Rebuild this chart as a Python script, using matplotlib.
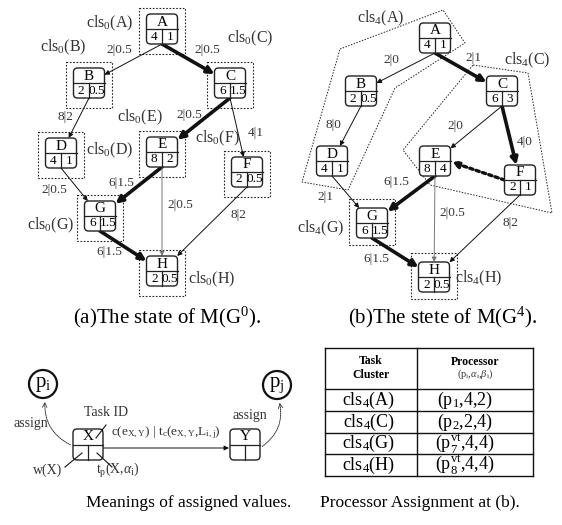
import numpy as np
import matplotlib
matplotlib.use("Agg")
import matplotlib.pyplot as plt
from matplotlib.patches import FancyBboxPatch, Rectangle, Polygon, Circle, FancyArrowPatch

plt.rcParams["font.family"] = ["Liberation Serif", "DejaVu Serif"]
plt.rcParams["mathtext.fontset"] = "custom"
plt.rcParams["mathtext.rm"] = "Liberation Serif"
plt.rcParams["mathtext.it"] = "Liberation Serif:italic"
plt.rcParams["mathtext.bf"] = "Liberation Serif:bold"

# task graph data
task_ids = ["A", "B", "C", "D", "E", "F", "G", "H"]
w_g0 = ["4", "2", "6", "4", "8", "2", "6", "2"]
tp_g0 = ["1", "0.5", "1.5", "1", "2", "0.5", "1.5", "0.5"]
w_g4 = ["4", "2", "6", "4", "8", "2", "6", "2"]
tp_g4 = ["1", "0.5", "3", "1", "4", "1", "1.5", "0.5"]

edges = [("A", "B"), ("A", "C"), ("B", "D"), ("C", "E"), ("C", "F"),
         ("D", "G"), ("E", "G"), ("E", "H"), ("F", "H"), ("G", "H")]
comm_g0 = ["2|0.5", "2|0.5", "8|2", "2|0.5", "4|1", "2|0.5", "6|1.5", "2|0.5", "8|2", "6|1.5"]
comm_g4 = ["2|0", "2|1", "8|0", "2|0", "4|0", "2|1", "6|1.5", "2|0.5", "8|2", "6|1.5"]
critical_g0 = [("A", "C"), ("C", "E"), ("E", "G"), ("G", "H")]
critical_g4 = [("A", "C"), ("C", "F"), ("E", "G"), ("G", "H")]
dotted_g4 = [("F", "E")]
clusters_g0 = task_ids
clusters_g4 = ["A", "C", "G", "H"]

# processor assignment table
table_clusters = ["A", "C", "G", "H"]
table_procs = [r"(p$_\mathrm{1}$,4,2)", r"(p$_\mathrm{2}$,2,4)",
               r"(p$_\mathrm{7}^\mathrm{vt}$,4,4)", r"(p$_\mathrm{8}^\mathrm{vt}$,4,4)"]

# layout (pixel coordinates)
pos_a = {"A": (162, 29), "B": (89, 83), "C": (230, 83), "D": (61, 153),
         "E": (162, 152), "F": (247, 172), "G": (100, 216), "H": (162, 271)}
pos_b = {"A": (435, 38), "B": (361, 91), "C": (502, 91), "D": (332, 161),
         "E": (435, 161), "F": (520, 180), "G": (372, 223), "H": (434, 277)}
elab_a = [(119, 50), (207, 50), (65, 117), (189, 115), (256, 133),
          (54, 190), (121, 183), (180, 205), (238, 215), (109, 252)]
elab_b = [(391, 60), (473, 58), (333, 125), (455, 126), (525, 142),
          (325, 197), (396, 182), (452, 213), (510, 223), (376, 259)]
clab_a = {"A": (110, 23), "B": (63, 47), "C": (250, 38), "D": (110, 150),
          "E": (140, 117), "F": (217, 138), "G": (51, 225), "H": (212, 279)}
clab_b = {"A": (381, 18), "C": (527, 60), "G": (321, 228), "H": (479, 278)}
poly_a = [(340, 49), (443, 10), (465, 43), (395, 88), (348, 190), (302, 182)]
poly_c = [(473, 65), (528, 73), (552, 213), (430, 185), (403, 150)]

NW, NH = 31, 30


def draw_node(ax, cx, cy, name, w, tp):
    r = 4
    ax.add_patch(FancyBboxPatch((cx - NW / 2 + r, cy - NH / 2 + r), NW - 2 * r, NH - 2 * r,
                                boxstyle=f"round,pad={r}", fc="white", ec="#222", lw=1.0, zorder=3))
    ax.plot([cx - NW / 2, cx + NW / 2], [cy, cy], color="#222", lw=0.9, zorder=4)
    ax.plot([cx, cx], [cy, cy + NH / 2], color="#222", lw=0.9, zorder=4)
    ax.text(cx, cy - 7, name, ha="center", va="center", fontsize=11, zorder=5)
    ax.text(cx - NW / 4, cy + 7.5, w, ha="center", va="center", fontsize=9.5, zorder=5)
    ax.text(cx + NW / 4, cy + 7.5, tp, ha="center", va="center", fontsize=9.5, zorder=5)


def clip(sx, sy, tx, ty, hw=NW / 2, hh=NH / 2):
    dx, dy = sx - tx, sy - ty
    t = min(hw / abs(dx) if dx else np.inf, hh / abs(dy) if dy else np.inf)
    return tx + dx * t, ty + dy * t


def arrow(ax, p0, p1, thick=False, color="#111", ls="-"):
    lw = 2.6 if thick else 0.7
    ax.annotate("", xy=p1, xytext=p0, zorder=2,
                arrowprops=dict(arrowstyle="-|>", lw=lw, color=color, ls=ls,
                                shrinkA=0, shrinkB=0,
                                mutation_scale=10 if thick else 7))


def draw_graph(ax, pos, w, tp, labels, lab_pos, critical, dotted=()):
    for (s, t), lab, lp in zip(edges, labels, lab_pos):
        sx, sy = pos[s]
        tx, ty = pos[t]
        start = (sx, sy + NH / 2)
        end = clip(start[0], start[1], tx, ty)
        color = "#777" if (s, t) == ("E", "H") else "#111"
        arrow(ax, start, end, thick=(s, t) in critical, color=color)
        ax.text(lp[0], lp[1], lab, ha="center", va="center", fontsize=9.5, color="#333")
    for s, t in dotted:
        sx, sy = pos[s]
        tx, ty = pos[t]
        ax.annotate("", xy=(tx + NW / 2 + 1, ty + 1), xytext=(sx - NW / 2, sy),
                    arrowprops=dict(arrowstyle="-|>", lw=2.4, ls=(0, (1, 1)), color="#111",
                                    shrinkA=0, shrinkB=0, mutation_scale=10), zorder=2)
    for i, n in enumerate(task_ids):
        draw_node(ax, pos[n][0], pos[n][1], n, w[i], tp[i])


def dotted_box(ax, cx, cy, half=23):
    ax.add_patch(Rectangle((cx - half, cy - half), 2 * half, 2 * half, fill=False,
                           ec="#222", lw=0.8, ls=(0, (1.5, 1.5)), zorder=1))


fig = plt.figure(figsize=(5.62, 5.25), dpi=100)
ax = fig.add_axes([0, 0, 1, 1])
ax.set_xlim(0, 562)
ax.set_ylim(525, 0)
ax.axis("off")

# (a) initial state
for n in clusters_g0:
    dotted_box(ax, pos_a[n][0], pos_a[n][1] + 2)
draw_graph(ax, pos_a, w_g0, tp_g0, comm_g0, elab_a, critical_g0)
for n in clusters_g0:
    ax.text(*clab_a[n], rf"cls$_\mathrm{{0}}$({n})", ha="center", va="center",
            fontsize=11.5, color="#333")
ax.text(167, 317, r"(a)The state of M(G$^\mathrm{0}$).", ha="center", va="center", fontsize=15)

# (b) state after merging
for poly in (poly_a, poly_c):
    ax.add_patch(Polygon(poly, closed=True, fill=False, ec="#222", lw=0.7, ls=(0, (1.5, 1.5)), zorder=1))
for n in ["G", "H"]:
    dotted_box(ax, pos_b[n][0], pos_b[n][1] - 1)
draw_graph(ax, pos_b, w_g4, tp_g4, comm_g4, elab_b, critical_g4, dotted_g4)
for n in clusters_g4:
    ax.text(*clab_b[n], rf"cls$_\mathrm{{4}}$({n})", ha="center", va="center",
            fontsize=11.5, color="#333")
ax.text(443, 317, r"(b)The stete of M(G$^\mathrm{4}$).", ha="center", va="center", fontsize=15)

# legend: meaning of values
for cx, name in [(88, "X"), (245, "Y")]:
    ax.add_patch(FancyBboxPatch((cx - 15 + 4, 429 + 4), 30 - 8, 31 - 8, boxstyle="round,pad=4",
                                fc="white", ec="#222", lw=1.0, zorder=3))
    ax.plot([cx - 15, cx + 15], [445, 445], color="#222", lw=0.9, zorder=4)
    ax.plot([cx, cx], [445, 460], color="#222", lw=0.9, zorder=4)
    ax.text(cx, 437, name, ha="center", va="center", fontsize=11, zorder=5)
arrow(ax, (103, 448), (229, 448))
for cx, cy, sub in [(43, 384, "i"), (277, 385, "j")]:
    ax.add_patch(Circle((cx, cy), 14, fill=False, ec="#111", lw=1.6))
    ax.text(cx, cy, rf"p$_\mathrm{{{sub}}}$", ha="center", va="center", fontsize=15)
ax.add_patch(FancyArrowPatch((73, 446), (45, 399), connectionstyle="arc3,rad=-0.35",
                             arrowstyle="->", mutation_scale=8, lw=0.7, ls=(0, (1, 1)), color="#333"))
ax.add_patch(FancyArrowPatch((260, 448), (279, 400), connectionstyle="arc3,rad=0.35",
                             arrowstyle="->", mutation_scale=8, lw=0.7, ls=(0, (1, 1)), color="#333"))
ax.text(31, 423, "assign", ha="center", va="center", fontsize=10, color="#333")
ax.text(250, 416, "assign", ha="center", va="center", fontsize=10, color="#333")
ax.text(106, 413, "Task ID", ha="center", va="center", fontsize=10, color="#333")
ax.plot([106, 96], [425, 438], color="#111", lw=0.8, zorder=6)
ax.text(166, 433, r"c(e$_\mathrm{X,Y}$) | t$_\mathrm{c}$(e$_\mathrm{X,Y}$,L$_\mathrm{i,j}$)",
        ha="center", va="center", fontsize=9.5, color="#333")
ax.text(48, 470, "w(X)", ha="center", va="center", fontsize=10, color="#333")
ax.plot([65, 82], [467, 453], color="#111", lw=0.8, zorder=6)
ax.text(118, 471, r"t$_\mathrm{p}$(X,$\alpha_\mathrm{i}$)", ha="center", va="center",
        fontsize=10, color="#333")
ax.plot([112, 97], [467, 453], color="#111", lw=0.8, zorder=6)
ax.text(189, 503, "Meanings of assigned values.", ha="center", va="center", fontsize=12.5)

# processor assignment table
x0, xm, x1 = 325, 417, 533
rows = [348, 389, 411, 433, 454, 476]
for y in rows:
    ax.plot([x0, x1], [y, y], color="#111", lw=1.0)
for x in (x0, xm, x1):
    ax.plot([x, x], [rows[0], rows[-1]], color="#111", lw=1.0)
ax.text(371, 368, "Task\nCluster", ha="center", va="center", fontsize=8.5, fontweight="bold",
        linespacing=1.2)
ax.text(475, 362, "Processor", ha="center", va="center", fontsize=8.5, fontweight="bold")
ax.text(475, 374, r"(p$_\mathrm{i}$,$\alpha_\mathrm{i}$,$\beta_\mathrm{i}$)", ha="center",
        va="center", fontsize=7.5, color="#333")
for i, (c, p) in enumerate(zip(table_clusters, table_procs)):
    yc = (rows[i + 1] + rows[i + 2]) / 2
    ax.text(369, yc, rf"cls$_\mathrm{{4}}$({c})", ha="center", va="center", fontsize=13)
    ax.text(465, yc, p, ha="center", va="center", fontsize=13)
ax.text(420, 503, "Processor Assignment at (b).", ha="center", va="center", fontsize=12.5)

fig.savefig("out.png", dpi=100)
